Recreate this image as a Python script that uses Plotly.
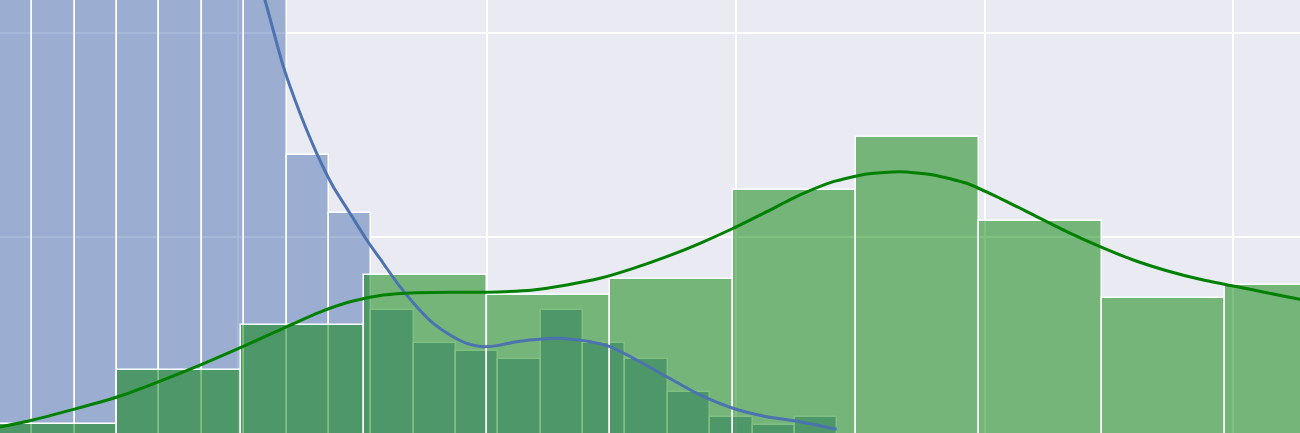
import numpy as np
import plotly.graph_objects as go

# blue histogram: 20 bins starting at 0
blue_start = 0.05
blue_binwidth = 3.405
blue_counts = [150, 128, 108, 92, 78, 66, 54, 35, 28, 16, 12, 11, 10, 16, 12, 10, 6, 3, 2, 3]

# green histogram: wider bins
green_start = 0.40
green_binwidth = 9.896
green_counts = [2.1, 8.7, 14.2, 20.4, 17.9, 19.9, 30.7, 37.2, 26.9, 17.5, 19.15]

# kde curves
blue_kde_x = [21.11, 21.59, 22.15, 23.63, 24.97, 26.31, 27.64, 28.99, 30.33, 31.66, 33.0, 34.35,
              35.68, 37.03, 38.37, 39.7, 41.05, 42.39, 45.6, 48.28, 49.89, 52.03, 54.44, 57.12,
              59.77, 62.48, 65.16, 68.11]
blue_kde_y = [59.56, 56.86, 54.04, 45.87, 40.16, 35.26, 31.16, 27.9, 24.63, 21.78, 18.91, 16.46,
              14.42, 12.99, 11.97, 11.56, 11.75, 12.17, 12.59, 12.17, 11.56, 9.93, 7.88, 5.64,
              4.01, 2.98, 2.37, 1.43]

green_kde_x = [0.85, 3.5, 10.26, 16.93, 20.95, 23.63, 26.31, 28.99, 31.66, 34.35, 37.03, 39.7,
               43.72, 46.41, 49.08, 51.76, 54.44, 57.12, 59.8, 62.48, 65.16, 67.84, 70.52, 73.2,
               75.88, 78.56, 81.24, 83.92, 86.6, 89.28, 91.95, 94.64, 97.32, 99.99, 102.67,
               105.35, 106.96]
green_kde_y = [1.72, 2.57, 5.39, 9.31, 11.97, 13.81, 15.65, 17.07, 17.89, 18.17, 18.22, 18.22,
               18.5, 19.12, 19.94, 21.16, 22.59, 24.23, 26.07, 28.1, 30.15, 31.78, 32.72, 33.0,
               32.6, 31.58, 29.74, 27.7, 25.65, 23.81, 22.18, 20.87, 19.82, 19.0, 18.17,
               17.37, 16.95]

blue = '#4C72B0'
green = '#008000'

blue_centers = blue_start + blue_binwidth * (np.arange(len(blue_counts)) + 0.5)
green_centers = green_start + green_binwidth * (np.arange(len(green_counts)) + 0.5)

fig = go.Figure()

# Histogram bars (blue first, green on top)
fig.add_trace(go.Bar(
    x=blue_centers, y=blue_counts, width=blue_binwidth,
    marker=dict(color='rgba(76,114,176,0.5)', line=dict(color='white', width=1.5)),
    showlegend=False
))
fig.add_trace(go.Bar(
    x=green_centers, y=green_counts, width=green_binwidth,
    marker=dict(color='rgba(0,128,0,0.5)', line=dict(color='white', width=1.5)),
    showlegend=False
))

# KDE lines
fig.add_trace(go.Scatter(
    x=blue_kde_x, y=blue_kde_y, mode='lines',
    line=dict(color=blue, width=3, shape='spline', smoothing=0.6),
    showlegend=False
))
fig.add_trace(go.Scatter(
    x=green_kde_x, y=green_kde_y, mode='lines',
    line=dict(color=green, width=3, shape='spline', smoothing=0.6),
    showlegend=False
))

fig.update_layout(
    width=1300, height=433,
    margin=dict(l=0, r=0, t=0, b=0),
    barmode='overlay', bargap=0,
    plot_bgcolor='#EAEAF2', paper_bgcolor='#EAEAF2',
    xaxis=dict(range=[0.852, 105.35], tick0=0, dtick=20, showgrid=True, gridcolor='white',
               gridwidth=1.5, zeroline=False, showticklabels=False, ticks=''),
    yaxis=dict(range=[0.98, 54.04], tick0=0, dtick=25, showgrid=True, gridcolor='white',
               gridwidth=1.5, zeroline=False, showticklabels=False, ticks=''),
)

# page body has a default margin; drop it so the plot fills the window
fig.write_html("out.html", config={'displayModeBar': False},
               post_script="document.body.style.margin='0';document.body.style.overflow='hidden';")
